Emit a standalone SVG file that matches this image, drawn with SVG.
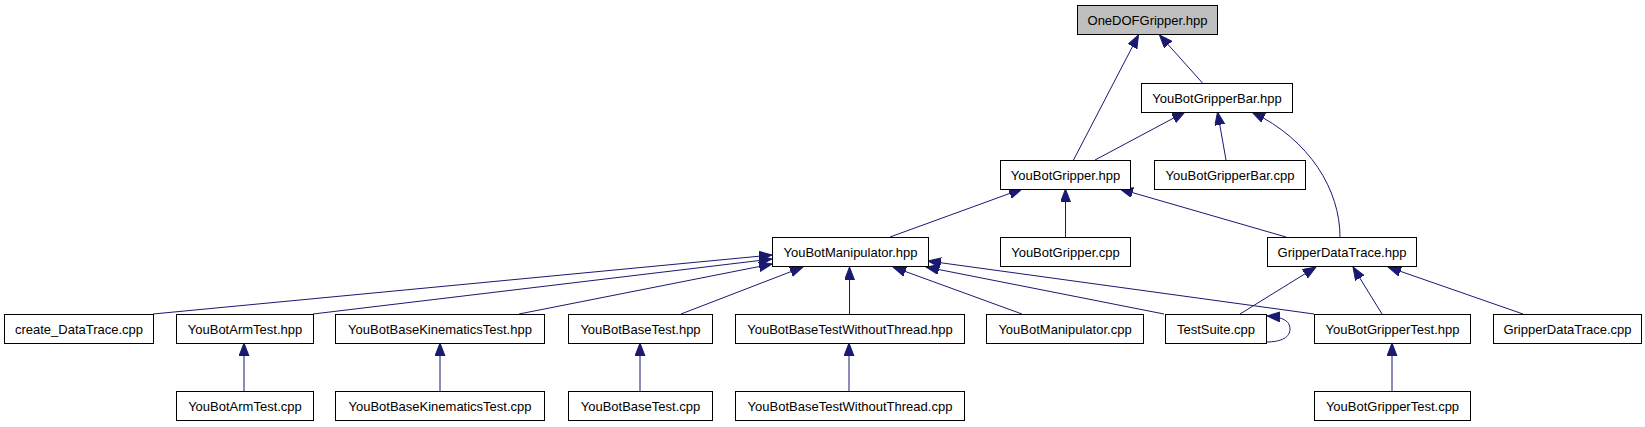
<svg xmlns="http://www.w3.org/2000/svg" width="1645" height="427" viewBox="0 0 1645 427">
<style>
.n rect{fill:#fff;stroke:#000;stroke-width:1}
.n.root rect{fill:#bfbfbf}
.n text{font-family:"Liberation Sans",Arial,sans-serif;font-size:13px;fill:#000;text-anchor:middle}
.e path{fill:none;stroke:#191970;stroke-width:1;marker-end:url(#ah)}
</style>
<defs>
<marker id="ah" markerUnits="userSpaceOnUse" markerWidth="14" markerHeight="11" refX="13" refY="5" orient="auto">
<path d="M0,0 L13,5 L0,10 z" fill="#191970" stroke="#191970" stroke-width="1"/>
</marker>
</defs>
<rect width="1645" height="427" fill="#fff"/>
<g id="edges" class="e">
<path d="M1073.5,160 L1138.5,35"/>
<path d="M1202.5,83 L1159.5,35"/>
<path d="M1095,160 L1185,112"/>
<path d="M1226,160 L1217.5,112"/>
<path d="M1340,237 C1340,190 1310,140 1252,112"/>
<path d="M890,237 L1022,189"/>
<path d="M1065.5,237 L1065.5,189"/>
<path d="M1286,237 L1120,189"/>
<path d="M153,314 L772,255"/>
<path d="M313,314 L772,259"/>
<path d="M519,314 L772,264"/>
<path d="M681,314 L803,267"/>
<path d="M849.5,314 L849.5,267"/>
<path d="M1022,314 L893,267"/>
<path d="M1164,314 L926,267"/>
<path d="M1314,314 L928,261"/>
<path d="M1240,314 L1316,267"/>
<path d="M1382,314 L1353,267"/>
<path d="M1523,314 L1388,267"/>
<path d="M1266,342 C1282,342 1290,337 1290,329 C1290,321 1283,317 1267,316"/>
<path d="M244,391 L244,343"/>
<path d="M440,391 L440,343"/>
<path d="M640,391 L640,343"/>
<path d="M849,391 L849,343"/>
<path d="M1392,391 L1392,343"/>
</g>
<g id="n_OneDOFGripper_hpp" class="n root"><rect x="1077.5" y="5.5" width="140" height="29"/><text x="1147.5" y="24.5">OneDOFGripper.hpp</text></g>
<g id="n_YouBotGripperBar_hpp" class="n"><rect x="1141.5" y="83.5" width="151" height="29"/><text x="1217" y="102.5">YouBotGripperBar.hpp</text></g>
<g id="n_YouBotGripper_hpp" class="n"><rect x="1000.5" y="160.5" width="130" height="29"/><text x="1065.5" y="179.5">YouBotGripper.hpp</text></g>
<g id="n_YouBotGripperBar_cpp" class="n"><rect x="1154.5" y="160.5" width="151" height="29"/><text x="1230" y="179.5">YouBotGripperBar.cpp</text></g>
<g id="n_YouBotManipulator_hpp" class="n"><rect x="772.5" y="237.5" width="156" height="29"/><text x="850.5" y="256.5">YouBotManipulator.hpp</text></g>
<g id="n_YouBotGripper_cpp" class="n"><rect x="1000.5" y="237.5" width="130" height="29"/><text x="1065.5" y="256.5">YouBotGripper.cpp</text></g>
<g id="n_GripperDataTrace_hpp" class="n"><rect x="1267.5" y="237.5" width="149" height="29"/><text x="1342" y="256.5">GripperDataTrace.hpp</text></g>
<g id="n_create_DataTrace_cpp" class="n"><rect x="4.5" y="314.5" width="149" height="29"/><text x="79" y="333.5">create_DataTrace.cpp</text></g>
<g id="n_YouBotArmTest_hpp" class="n"><rect x="176.5" y="314.5" width="137" height="29"/><text x="245" y="333.5">YouBotArmTest.hpp</text></g>
<g id="n_YouBotBaseKinematicsTest_hpp" class="n"><rect x="335.5" y="314.5" width="209" height="29"/><text x="440" y="333.5">YouBotBaseKinematicsTest.hpp</text></g>
<g id="n_YouBotBaseTest_hpp" class="n"><rect x="568.5" y="314.5" width="144" height="29"/><text x="640.5" y="333.5">YouBotBaseTest.hpp</text></g>
<g id="n_YouBotBaseTestWithoutThread_hpp" class="n"><rect x="735.5" y="314.5" width="229" height="29"/><text x="850" y="333.5">YouBotBaseTestWithoutThread.hpp</text></g>
<g id="n_YouBotManipulator_cpp" class="n"><rect x="986.5" y="314.5" width="157" height="29"/><text x="1065" y="333.5">YouBotManipulator.cpp</text></g>
<g id="n_TestSuite_cpp" class="n"><rect x="1165.5" y="314.5" width="101" height="29"/><text x="1216" y="333.5">TestSuite.cpp</text></g>
<g id="n_YouBotGripperTest_hpp" class="n"><rect x="1314.5" y="314.5" width="156" height="29"/><text x="1392.5" y="333.5">YouBotGripperTest.hpp</text></g>
<g id="n_GripperDataTrace_cpp" class="n"><rect x="1493.5" y="314.5" width="148" height="29"/><text x="1567.5" y="333.5">GripperDataTrace.cpp</text></g>
<g id="n_YouBotArmTest_cpp" class="n"><rect x="176.5" y="391.5" width="137" height="29"/><text x="245" y="410.5">YouBotArmTest.cpp</text></g>
<g id="n_YouBotBaseKinematicsTest_cpp" class="n"><rect x="335.5" y="391.5" width="209" height="29"/><text x="440" y="410.5">YouBotBaseKinematicsTest.cpp</text></g>
<g id="n_YouBotBaseTest_cpp" class="n"><rect x="568.5" y="391.5" width="144" height="29"/><text x="640.5" y="410.5">YouBotBaseTest.cpp</text></g>
<g id="n_YouBotBaseTestWithoutThread_cpp" class="n"><rect x="735.5" y="391.5" width="229" height="29"/><text x="850" y="410.5">YouBotBaseTestWithoutThread.cpp</text></g>
<g id="n_YouBotGripperTest_cpp" class="n"><rect x="1314.5" y="391.5" width="156" height="29"/><text x="1392.5" y="410.5">YouBotGripperTest.cpp</text></g>
</svg>
